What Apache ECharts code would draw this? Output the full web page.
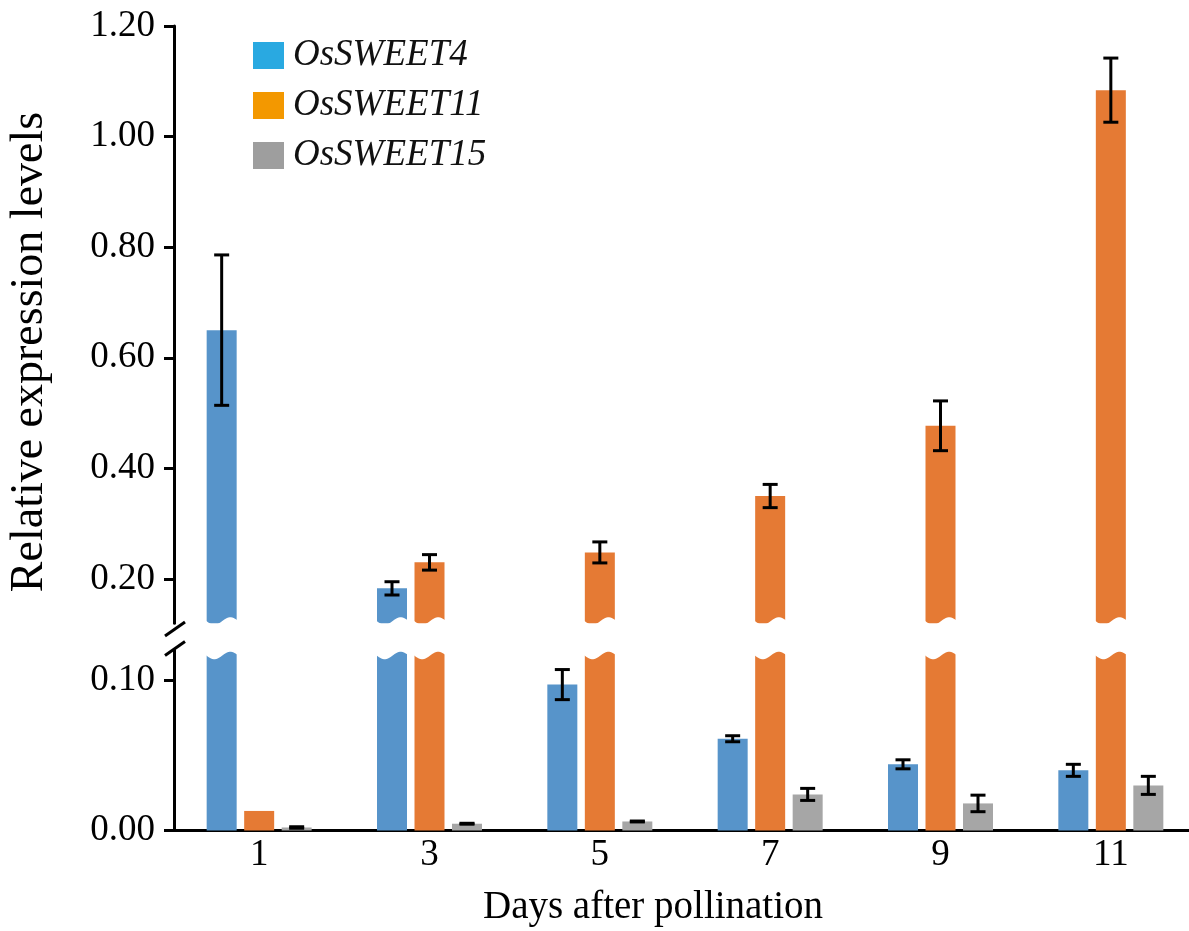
<!DOCTYPE html>
<html>
<head>
<meta charset="utf-8">
<script src="https://cdn.jsdelivr.net/npm/echarts@6/dist/echarts.min.js"></script>
<style>
html,body{margin:0;padding:0;background:#fff;}
#chart{width:1189px;height:931px;}
</style>
</head>
<body>
<div id="chart"></div>
<script>
// ---- data ----
const categories = ['1', '3', '5', '7', '9', '11'];
const seriesNames = ['OsSWEET4', 'OsSWEET11', 'OsSWEET15'];
const sweet4 = [0.650, 0.183, 0.097, 0.061, 0.044, 0.040];
const sweet4Err = [0.136, 0.012, 0.010, 0.002, 0.003, 0.004];
const sweet11 = [0.013, 0.230, 0.248, 0.350, 0.477, 1.084];
const sweet11Err = [0, 0.014, 0.019, 0.021, 0.045, 0.058];
const sweet15 = [0.002, 0.0045, 0.006, 0.024, 0.018, 0.030];
const sweet15Err = [0.0005, 0.0003, 0.0003, 0.004, 0.0055, 0.006];
const upperTicks = [0.20, 0.40, 0.60, 0.80, 1.00, 1.20];
const lowerTicks = [0.00, 0.10];
const breakValue = 0.12;
const upperMax = 1.20;

// ---- styles ----
const barColors = ['#5794CA', '#E57A34', '#A6A6A6'];
const legendColors = ['#29A9E1', '#F39800', '#9E9E9E'];
const FONT = '"Liberation Serif", "Times New Roman", serif';
const BAR_W = 30;
const BAR_STEP = 37.5;

const values = [sweet4, sweet11, sweet15];
const errs = [sweet4Err, sweet11Err, sweet15Err];

const chart = echarts.init(document.getElementById('chart'), null, {renderer: 'canvas'});

function barSeries(s, gridIdx) {
  const data = values[s].map(v => gridIdx === 0 ? (v > breakValue ? v : null) : v);
  return {
    name: seriesNames[s], type: 'bar', xAxisIndex: gridIdx, yAxisIndex: gridIdx,
    data: data, barWidth: BAR_W, barGap: '25%', clip: true,
    itemStyle: {color: barColors[s]}, emphasis: {disabled: true}, z: 2
  };
}

// items: [catIndex, value, err, seriesIndex]
const upperItems = [], lowerItems = [];
values.forEach((arr, s) => arr.forEach((v, i) => {
  const it = [i, v, errs[s][i], s];
  if (v > breakValue) upperItems.push(it); else lowerItems.push(it);
}));
const allItems = [];
values.forEach((arr, s) => arr.forEach((v, i) => allItems.push([i, v, errs[s][i], s])));

function errRender(params, api) {
  const cat = api.value(0), v = api.value(1), e = api.value(2), s = api.value(3);
  if (!(e > 0)) return null;
  const off = (s - 1) * BAR_STEP;
  const hi = api.coord([cat, v + e]);
  const lo = api.coord([cat, v - e]);
  const x = hi[0] + off;
  const st = {stroke: '#000', lineWidth: 3};
  return {type: 'group', children: [
    {type: 'line', shape: {x1: x, y1: hi[1], x2: x, y2: lo[1]}, style: st},
    {type: 'line', shape: {x1: x - 7.5, y1: hi[1], x2: x + 7.5, y2: hi[1]}, style: st},
    {type: 'line', shape: {x1: x - 7.5, y1: lo[1], x2: x + 7.5, y2: lo[1]}, style: st}
  ]};
}

function waveRender(upper) {
  return function (params, api) {
    const cat = api.value(0), v = api.value(1), s = api.value(3);
    if (v <= breakValue) return null;
    const p = api.coord([cat, breakValue]);
    const x0 = p[0] + (s - 1) * BAR_STEP - BAR_W / 2 - 1;
    const w = BAR_W + 2;
    const pts = [];
    const c = upper ? p[1] - 2.2 : p[1] + 5.5;
    for (let k = 0; k <= 24; k++) {
      const t = k / 24;
      pts.push([x0 + t * w, c + 3.8 * Math.cos(2 * Math.PI * (t - 0.27))]);
    }
    if (upper) { pts.push([x0 + w, p[1] + 4]); pts.push([x0, p[1] + 4]); }
    else { pts.push([x0 + w, p[1] - 3]); pts.push([x0, p[1] - 3]); }
    return {type: 'polygon', shape: {points: pts}, style: {fill: '#fff'}};
  };
}

function breakRender(params, api) {
  const cs = params.coordSys;
  const x = cs.x + 1, y = cs.y;
  const st = {stroke: '#000', lineWidth: 3};
  return {type: 'group', children: [
    {type: 'line', shape: {x1: x - 10, y1: y - 21 + 7, x2: x + 10, y2: y - 21 - 7}, style: st},
    {type: 'line', shape: {x1: x - 10, y1: y - 1.5 + 7, x2: x + 10, y2: y - 1.5 - 7}, style: st}
  ]};
}

const axisLineStyle = {color: '#000', width: 3};
const labelStyle = {color: '#000', fontFamily: FONT, fontSize: 37};

const option = {
  animation: false,
  backgroundColor: '#fff',
  grid: [
    {left: 174, width: 1022, top: 26, height: 597.2, outerBoundsMode: 'none', containLabel: false},
    {left: 174, width: 1022, top: 650, height: 180.5, outerBoundsMode: 'none', containLabel: false}
  ],
  legend: {
    orient: 'vertical', left: 248, top: 32, itemWidth: 31, itemHeight: 27, itemGap: 13,
    icon: 'rect', selectedMode: false,
    textStyle: {color: '#111', fontFamily: FONT, fontSize: 37, fontStyle: 'italic', lineHeight: 37, padding: [0, 0, 0, 4]},
    data: seriesNames.map((n, i) => ({name: n, itemStyle: {color: legendColors[i]}}))
  },
  xAxis: [
    {type: 'category', gridIndex: 0, data: categories, show: false},
    {type: 'category', gridIndex: 1, data: categories,
      axisLine: {show: true, lineStyle: axisLineStyle}, axisTick: {show: false},
      axisLabel: Object.assign({margin: 6}, labelStyle)}
  ],
  yAxis: [
    {type: 'value', gridIndex: 0, min: breakValue, max: upperMax,
      axisLine: {show: true, lineStyle: axisLineStyle},
      axisTick: {show: true, length: 10, lineStyle: axisLineStyle, customValues: upperTicks},
      axisLabel: Object.assign({margin: 19, customValues: upperTicks, formatter: v => v.toFixed(2)}, labelStyle),
      splitLine: {show: false}},
    {type: 'value', gridIndex: 1, min: 0, max: breakValue,
      axisLine: {show: true, lineStyle: axisLineStyle},
      axisTick: {show: true, length: 10, lineStyle: axisLineStyle, customValues: lowerTicks},
      axisLabel: Object.assign({margin: 19, customValues: lowerTicks, formatter: v => v.toFixed(2)}, labelStyle),
      splitLine: {show: false}}
  ],
  graphic: [
    {type: 'text', x: 30, y: 352, rotation: Math.PI / 2,
      style: {text: 'Relative expression levels', font: '46px ' + FONT, fill: '#000', align: 'center', verticalAlign: 'middle'}},
    {type: 'text', x: 653, y: 908,
      style: {text: 'Days after pollination', font: '39px ' + FONT, fill: '#000', align: 'center', verticalAlign: 'middle'}}
  ],
  series: [
    barSeries(0, 0), barSeries(1, 0), barSeries(2, 0),
    barSeries(0, 1), barSeries(1, 1), barSeries(2, 1),
    {type: 'custom', name: 'waveUpper', xAxisIndex: 0, yAxisIndex: 0, data: allItems, renderItem: waveRender(true), clip: false, z: 5, silent: true, encode: {x: 0, y: 1}},
    {type: 'custom', name: 'waveLower', xAxisIndex: 1, yAxisIndex: 1, data: allItems, renderItem: waveRender(false), clip: false, z: 5, silent: true, encode: {x: 0, y: 1}},
    {type: 'custom', name: 'errUpper', xAxisIndex: 0, yAxisIndex: 0, data: upperItems, renderItem: errRender, clip: false, z: 6, silent: true, encode: {x: 0, y: 1}},
    {type: 'custom', name: 'errLower', xAxisIndex: 1, yAxisIndex: 1, data: lowerItems, renderItem: errRender, clip: false, z: 6, silent: true, encode: {x: 0, y: 1}},
    {type: 'custom', name: 'axisBreak', xAxisIndex: 1, yAxisIndex: 1, data: [[0, 0]], renderItem: breakRender, clip: false, z: 7, silent: true, encode: {x: 0, y: 1}}
  ]
};
chart.setOption(option);
</script>
</body>
</html>
